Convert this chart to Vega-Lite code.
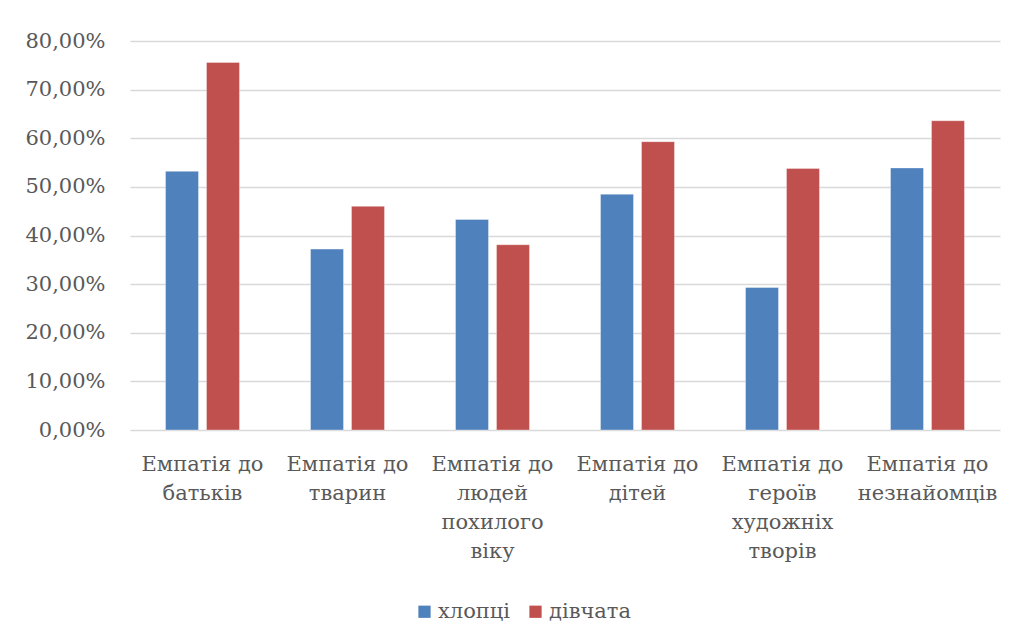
{
  "$schema": "https://vega.github.io/schema/vega-lite/v6.json",
  "width": 870,
  "height": 389,
  "autosize": {"type": "none"},
  "padding": {"left": 130, "top": 41, "right": 19, "bottom": 211},
  "background": "white",
  "config": {
    "font": "DejaVu Serif",
    "axis": {"labelFont": "DejaVu Serif"},
    "legend": {"labelFont": "DejaVu Serif"},
    "view": {"stroke": null}
  },
  "data": {
    "values": [
      {"cat": "Емпатія до|батьків", "group": "хлопці", "value": 0.532},
      {"cat": "Емпатія до|батьків", "group": "дівчата", "value": 0.756},
      {"cat": "Емпатія до|тварин", "group": "хлопці", "value": 0.372},
      {"cat": "Емпатія до|тварин", "group": "дівчата", "value": 0.460},
      {"cat": "Емпатія до|людей|похилого|віку", "group": "хлопці", "value": 0.433},
      {"cat": "Емпатія до|людей|похилого|віку", "group": "дівчата", "value": 0.381},
      {"cat": "Емпатія до|дітей", "group": "хлопці", "value": 0.485},
      {"cat": "Емпатія до|дітей", "group": "дівчата", "value": 0.593},
      {"cat": "Емпатія до|героїв|художніх|творів", "group": "хлопці", "value": 0.293},
      {"cat": "Емпатія до|героїв|художніх|творів", "group": "дівчата", "value": 0.538},
      {"cat": "Емпатія до|незнайомців", "group": "хлопці", "value": 0.539},
      {"cat": "Емпатія до|незнайомців", "group": "дівчата", "value": 0.636}
    ]
  },
  "mark": {"type": "bar", "stroke": "white", "strokeWidth": 0.6, "strokeOpacity": 0.6},
  "encoding": {
    "x": {
      "field": "cat",
      "type": "nominal",
      "sort": null,
      "scale": {"paddingInner": 0.49, "paddingOuter": 0.245},
      "axis": {
        "title": null,
        "labelAngle": 0,
        "labelExpr": "split(datum.label, '|')",
        "labelFontSize": 21,
        "labelLineHeight": 29,
        "labelColor": "#595959",
        "labelPadding": 23,
        "labelBaseline": "top",
        "ticks": false,
        "domain": false,
        "labelLimit": 0
      }
    },
    "xOffset": {
      "field": "group",
      "type": "nominal",
      "scale": {"domain": ["хлопці", "дівчата"], "paddingInner": 0.195, "paddingOuter": 0}
    },
    "y": {
      "field": "value",
      "type": "quantitative",
      "scale": {"domain": [0, 0.8], "nice": false},
      "axis": {
        "title": null,
        "values": [0, 0.1, 0.2, 0.3, 0.4, 0.5, 0.6, 0.7, 0.8],
        "labelExpr": "replace(format(datum.value, '.2%'), '.', ',')",
        "labelFontSize": 21,
        "labelColor": "#595959",
        "labelPadding": 25,
        "ticks": false,
        "domain": false,
        "grid": true,
        "gridColor": "#D9D9D9",
        "gridWidth": 1.5
      }
    },
    "color": {
      "field": "group",
      "type": "nominal",
      "scale": {"domain": ["хлопці", "дівчата"], "range": ["#4F81BD", "#C0504D"]},
      "legend": {
        "title": null,
        "orient": "none",
        "direction": "horizontal",
        "legendX": 284,
        "legendY": 560,
        "symbolType": "square",
        "symbolSize": 150,
        "symbolStrokeWidth": 0,
        "labelFontSize": 21,
        "labelColor": "#595959",
        "labelOffset": 3,
        "columnPadding": 14
      }
    }
  }
}
